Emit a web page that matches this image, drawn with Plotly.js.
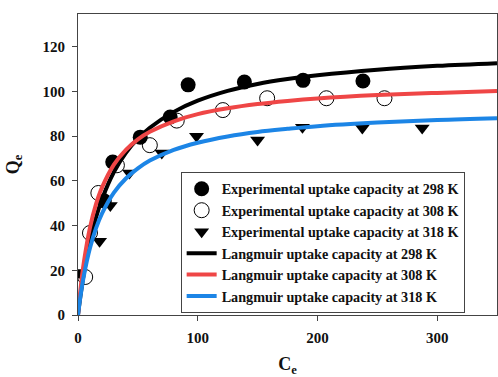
<!DOCTYPE html>
<html>
<head>
<meta charset="utf-8">
<script src="https://cdn.plot.ly/plotly-3.0.1.min.js"></script>
<style>html,body{margin:0;padding:0;background:#fff;}</style>
</head>
<body>
<div id="chart" style="width:498px;height:377px;"></div>
<script>
// Experimental points
const ce298 = [22, 29, 52, 77, 92, 139, 188, 238];
const q298  = [51, 68.5, 79.6, 88.6, 103, 104.3, 105, 104.7];
const ce308 = [6, 10, 17, 32.5, 60, 82.5, 121, 158, 207.5, 256];
const q308  = [17, 36.7, 54.6, 67, 76, 87, 91.7, 97, 97, 97];
const ce318 = [1, 18, 27, 43, 70, 99, 150, 187.5, 237.5, 287.5];
const q318  = [19, 33, 49, 63.5, 72.5, 80, 78.3, 84, 83.7, 83.7];

// Langmuir curves
const ceFit = [0, 2, 5, 10, 15, 20, 30, 40, 50, 60, 80, 100, 125, 150, 175, 200, 250, 300, 350];
const fit298 = [0, 8.4, 19.0, 32.9, 43.5, 51.8, 64.0, 72.6, 78.9, 83.8, 90.9, 95.9, 100.3, 103.4, 105.6, 107.3, 109.8, 111.5, 112.7];
const fit308 = [0, 11.2, 24.0, 39.1, 49.5, 57.0, 67.3, 73.9, 78.6, 82.0, 86.7, 89.9, 92.5, 94.4, 95.8, 96.9, 98.4, 99.4, 100.2];
const fit318 = [0, 8.1, 17.9, 30.0, 38.8, 45.4, 54.8, 61.1, 65.6, 69.1, 73.9, 77.1, 79.9, 81.9, 83.3, 84.5, 86.1, 87.3, 88.1];

const names = [
  'Experimental uptake capacity at 298 K',
  'Experimental uptake capacity at 308 K',
  'Experimental uptake capacity at 318 K',
  'Langmuir uptake capacity at 298 K',
  'Langmuir uptake capacity at 308 K',
  'Langmuir uptake capacity at 318 K'
];

const serif = 'Liberation Serif, Times New Roman, serif';

const traces = [
  {x: ce298, y: q298, mode: 'markers', name: names[0], type: 'scatter',
   marker: {symbol: 'circle', size: 15, color: '#000'}},
  {x: ce308, y: q308, mode: 'markers', name: names[1], type: 'scatter',
   marker: {symbol: 'circle-open', size: 15, color: '#000', line: {width: 1, color: '#000'}}},
  {x: ce318, y: q318, mode: 'markers', name: names[2], type: 'scatter',
   marker: {symbol: 'triangle-down', size: 13, color: '#000'}},
  {x: ceFit, y: fit298, mode: 'lines', name: names[3], type: 'scatter',
   line: {color: '#000', width: 4, shape: 'spline'}},
  {x: ceFit, y: fit308, mode: 'lines', name: names[4], type: 'scatter',
   line: {color: '#ef4646', width: 4, shape: 'spline'}},
  {x: ceFit, y: fit318, mode: 'lines', name: names[5], type: 'scatter',
   line: {color: '#1c85e6', width: 4, shape: 'spline'}}
];

const axisCommon = {
  showgrid: false, zeroline: false,
  showline: true, linecolor: '#444', linewidth: 1, mirror: true,
  ticks: 'outside', ticklen: 5, tickcolor: '#444', tickwidth: 1,
  tickfont: {family: serif, size: 15, color: '#111', weight: 'bold'}
};

const layout = {
  width: 498, height: 377,
  margin: {l: 78, r: 1, t: 14, b: 62},
  paper_bgcolor: '#fff', plot_bgcolor: '#fff',
  showlegend: true,
  legend: {
    x: 0.245, y: 0.475, xanchor: 'left', yanchor: 'top',
    bgcolor: '#fff', bordercolor: '#444', borderwidth: 1,
    font: {family: serif, size: 14.2, color: '#111', weight: 'bold'},
    tracegroupgap: 0, itemwidth: 30
  },
  xaxis: Object.assign({}, axisCommon, {
    range: [0, 350], tickvals: [0, 100, 200, 300],
    ticklabelstandoff: 4,
    title: {text: 'C<sub>e</sub>', font: {family: serif, size: 18, color: '#111', weight: 'bold'}, standoff: 18}
  }),
  yaxis: Object.assign({}, axisCommon, {
    range: [0, 134.7], tickvals: [0, 20, 40, 60, 80, 100, 120],
    ticklabelstandoff: 4,
    title: {text: 'Q<sub>e</sub>', font: {family: serif, size: 18, color: '#111', weight: 'bold'}, standoff: 18}
  })
};

Plotly.newPlot('chart', traces, layout, {displayModeBar: false, staticPlot: true});
</script>
</body>
</html>
